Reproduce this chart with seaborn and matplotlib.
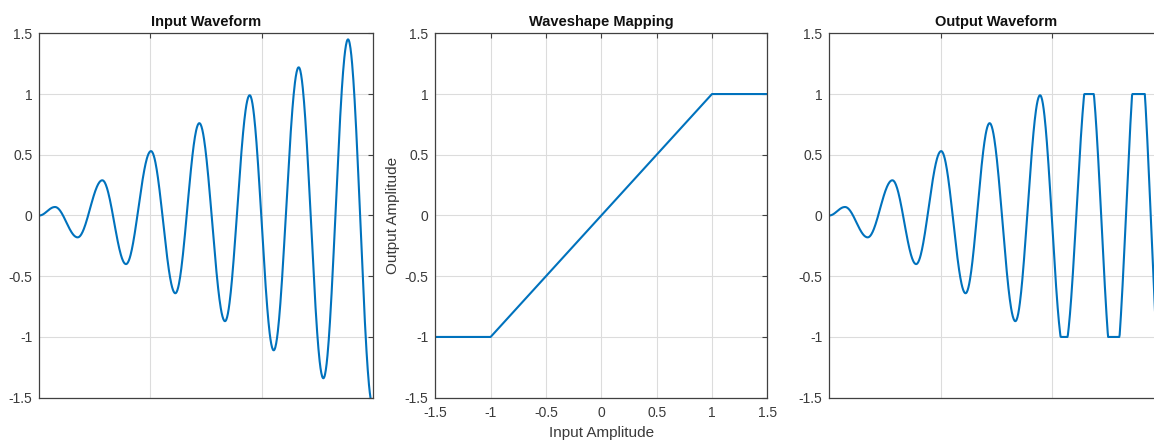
import numpy as np
import pandas as pd
import matplotlib
matplotlib.use("Agg")
import matplotlib.pyplot as plt
import seaborn as sns

# Input signal: times and values of its successive extrema (start point first)
peak_times = [0.0, 0.141, 0.345, 0.567, 0.780, 1.005, 1.224, 1.440, 1.671,
              1.893, 2.109, 2.334, 2.556, 2.778, 3.000]
peak_values = [0.0, 0.07, -0.18, 0.29, -0.40, 0.53, -0.64, 0.76, -0.87,
               0.99, -1.11, 1.22, -1.34, 1.45, -1.56]

# Transfer curve of the waveshaper (hard clipper at +/-1)
map_in = [-1.5, -1.0, 1.0, 1.5]
map_out = [-1.0, -1.0, 1.0, 1.0]

amp_ticks = [-1.5, -1.0, -0.5, 0.0, 0.5, 1.0, 1.5]
amp_labels = ["-1.5", "-1", "-0.5", "0", "0.5", "1", "1.5"]
time_ticks = [1, 2]


def waveform(times, values, n=60):
    """Join successive extrema with half-cosine lobes."""
    ts, ys = [], []
    for i in range(len(times) - 1):
        u = np.linspace(0, 1, n, endpoint=False)
        ts.append(times[i] + (times[i + 1] - times[i]) * u)
        ys.append(values[i] + (values[i + 1] - values[i]) * (1 - np.cos(np.pi * u)) / 2)
    ts.append([times[-1]])
    ys.append([values[-1]])
    return np.concatenate(ts), np.concatenate(ys)


t, x_in = waveform(peak_times, peak_values)
x_out = np.interp(x_in, map_in, map_out)

df_in = pd.DataFrame({"t": t, "amp": x_in})
df_out = pd.DataFrame({"t": t, "amp": x_out})
df_map = pd.DataFrame({"inp": map_in, "out": map_out})

sns.set_theme(style="white")
plt.rcParams["font.family"] = ["Liberation Sans", "DejaVu Sans"]
plt.rcParams["axes.unicode_minus"] = False

LINE = "#0072BD"
EDGE = "#404040"
TXT = "#3a3a3a"
GRID = "#dcdcdc"

fig = plt.figure(figsize=(11.54, 4.43), dpi=100)
bottom, height = 0.1023, 0.8225
ax_in = fig.add_axes([0.03406, bottom, 0.2889, height])
ax_map = fig.add_axes([0.3772, bottom, 0.2877, height])
ax_out = fig.add_axes([0.7186, bottom, 0.2895, height])

sns.lineplot(data=df_in, x="t", y="amp", ax=ax_in, color=LINE, lw=1.5,
             estimator=None, sort=False)
sns.lineplot(data=df_map, x="inp", y="out", ax=ax_map, color=LINE, lw=1.5,
             estimator=None, sort=False)
sns.lineplot(data=df_out, x="t", y="amp", ax=ax_out, color=LINE, lw=1.5,
             estimator=None, sort=False)

for ax, title in [(ax_in, "Input Waveform"), (ax_map, "Waveshape Mapping"),
                  (ax_out, "Output Waveform")]:
    ax.set_ylim(-1.5, 1.5)
    ax.set_yticks(amp_ticks)
    ax.set_yticklabels(amp_labels)
    ax.grid(True, color=GRID, lw=0.8)
    ax.set_axisbelow(True)
    for s in ax.spines.values():
        s.set_color(EDGE)
        s.set_linewidth(0.9)
    ax.tick_params(direction="in", length=3.5, width=0.8, color=EDGE,
                   labelcolor=TXT, labelsize=10, top=True, right=True,
                   pad=5)
    ax.set_title(title, fontsize=10.5, fontweight="bold", color="#111111",
                 pad=5)
    ax.set_xlabel("")
    ax.set_ylabel("")

for ax in (ax_in, ax_out):
    ax.set_xlim(0, 3)
    ax.set_xticks(time_ticks)
    ax.set_xticklabels([])

ax_map.set_xlim(-1.5, 1.5)
ax_map.set_xticks(amp_ticks)
ax_map.set_xticklabels(amp_labels)
ax_map.tick_params(axis="x", pad=6)
ax_map.set_xlabel("Input Amplitude", fontsize=11, color=TXT, labelpad=4)
ax_map.set_ylabel("Output Amplitude", fontsize=11, color=TXT, labelpad=3)

fig.savefig("out.png", dpi=100)
